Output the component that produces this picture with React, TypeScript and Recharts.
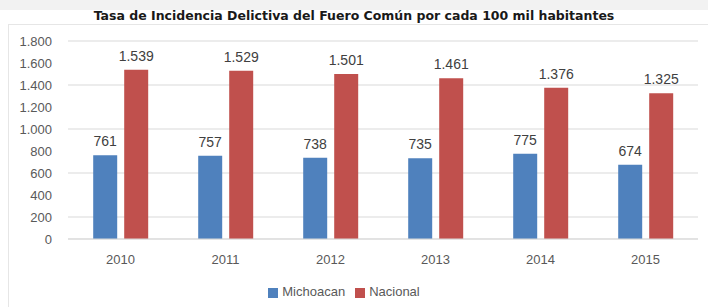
import { Bar, BarChart, CartesianGrid, LabelList, Legend, XAxis, YAxis } from "recharts";

const years = ["2010", "2011", "2012", "2013", "2014", "2015"];
const michoacan = [761, 757, 738, 735, 775, 674];
const nacional = [1539, 1529, 1501, 1461, 1376, 1325];
const yTicks = [0, 200, 400, 600, 800, 1000, 1200, 1400, 1600, 1800];

const data = years.map((year, i) => ({ year, michoacan: michoacan[i], nacional: nacional[i] }));

// 1539 -> "1.539"
const fmt = (v: number) => String(v).replace(/\B(?=(\d{3})+(?!\d))/g, ".");

const font = "'Liberation Sans', Arial, sans-serif";

export default function App() {
	return (
		<div style={{ position: "fixed", left: 0, top: 0, width: 708, height: 307, background: "#fff", fontFamily: font }}>
			<div style={{ position: "absolute", left: 0, top: 0, width: 708, height: 10, background: "#f2f2f2" }} />
			<div
				style={{
					position: "absolute",
					left: 8,
					top: 24,
					width: 710,
					height: 290,
					border: "1px solid #e6e6e6",
				}}
			/>
			<div
				style={{
					position: "absolute",
					left: 0,
					top: 8,
					width: 708,
					textAlign: "center",
					fontFamily: "'DejaVu Sans', sans-serif",
					fontWeight: 700,
					fontSize: 12.5,
					color: "#1a1a1a",
				}}
			>
				Tasa de Incidencia Delictiva del Fuero Común por cada 100 mil habitantes
			</div>
			<div style={{ position: "absolute", left: 0, top: 0 }}>
				<BarChart
					width={708}
					height={307}
					data={data}
					margin={{ top: 41, right: 10, bottom: 8, left: 0 }}
					barCategoryGap="24%"
					barGap={7}
				>
					<CartesianGrid vertical={false} stroke="#d9d9d9" />
					<XAxis
						dataKey="year"
						axisLine={{ stroke: "#d9d9d9" }}
						tickLine={false}
						tick={{ fill: "#595959", fontSize: 13, fontFamily: font }}
						tickMargin={10}
						height={45}
					/>
					<YAxis
						domain={[0, 1800]}
						ticks={yTicks}
						tickFormatter={fmt}
						axisLine={false}
						tickLine={false}
						width={68}
						tick={{ fill: "#595959", fontSize: 13, fontFamily: font, dx: -8 }}
					/>
					<Legend
						verticalAlign="bottom"
						iconType="square"
						iconSize={10}
						wrapperStyle={{ fontSize: 13, fontFamily: font, color: "#595959" }}
						formatter={(value) => <span style={{ color: "#595959" }}>{value}</span>}
					/>
					<Bar dataKey="michoacan" name="Michoacan" fill="#4F81BD" isAnimationActive={false}>
						<LabelList dataKey="michoacan" position="top" offset={9} formatter={(v: number) => fmt(v)} fill="#404040" fontSize={14} fontFamily={font} />
					</Bar>
					<Bar dataKey="nacional" name="Nacional" fill="#C0504D" isAnimationActive={false}>
						<LabelList dataKey="nacional" position="top" offset={9} formatter={(v: number) => fmt(v)} fill="#404040" fontSize={14} fontFamily={font} />
					</Bar>
				</BarChart>
			</div>
		</div>
	);
}
